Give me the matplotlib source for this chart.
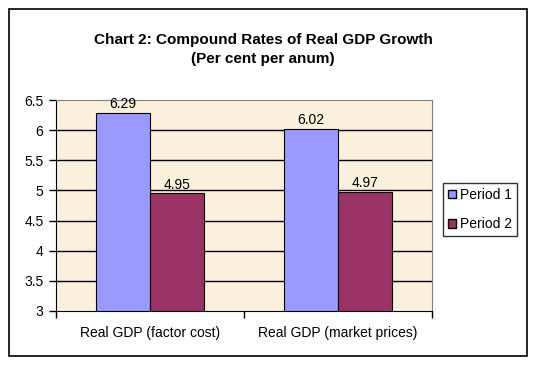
import matplotlib
matplotlib.use("Agg")
import matplotlib.pyplot as plt
from matplotlib.patches import Rectangle, Patch
import numpy as np

plt.rcParams['font.family'] = ['Liberation Sans', 'DejaVu Sans']

categories = ["Real GDP (factor cost)", "Real GDP (market prices)"]
series_names = ["Period 1", "Period 2"]
period1 = [6.29, 6.02]
period2 = [4.95, 4.97]
colors = ["#9999FF", "#993366"]
y_ticks = [3, 3.5, 4, 4.5, 5, 5.5, 6, 6.5]

W, H = 535, 366
fig = plt.figure(figsize=(W / 100, H / 100), dpi=100)
fig.patch.set_facecolor("white")

# outer border
fig.add_artist(Rectangle((9 / W, 1 - 356 / H), (527 - 9) / W, (356 - 9) / H,
                         transform=fig.transFigure, fill=False, edgecolor="black", lw=1.2))

L, R, T, B = 56, 432, 100, 311
ax = fig.add_axes([L / W, 1 - B / H, (R - L) / W, (B - T) / H])
ax.set_facecolor("#FAF0DB")

x = np.arange(len(categories))
bw = 1 / 3.5
for i, (vals, c, name) in enumerate(zip([period1, period2], colors, series_names)):
    pos = x - bw / 2 + i * bw
    ax.bar(pos, [v - 3 for v in vals], bottom=3, width=bw, color=c,
           edgecolor="black", lw=0.8, label=name, zorder=3)
    for p, v in zip(pos, vals):
        ax.text(p, v + 0.03, f"{v:.2f}", ha="center", va="bottom", fontsize=10, zorder=4)

ax.set_xlim(-0.5, len(categories) - 0.5)
ax.set_ylim(3, 6.5)
ax.set_yticks(y_ticks)
ax.set_yticklabels([f"{t:g}" for t in y_ticks], fontsize=10)
for t in y_ticks[1:-1]:
    ax.axhline(t, color="black", lw=1, zorder=1)

ax.set_xticks(np.arange(len(categories) + 1) - 0.5)
ax.set_xticklabels([])
ax.set_xticks(x, minor=True)
ax.set_xticklabels(categories, minor=True, fontsize=10)
ax.tick_params(axis="x", which="minor", length=0, pad=11)
ax.tick_params(axis="x", which="major", length=5, direction="out", width=1)
ax.tick_params(axis="y", length=5, direction="out", width=1, pad=4)

for s in ["top", "right"]:
    ax.spines[s].set_color("#808080")
for s in ["left", "bottom"]:
    ax.spines[s].set_color("black")

fig.text(263 / W, 1 - 40 / H, "Chart 2: Compound Rates of Real GDP Growth",
         ha="center", va="center", fontsize=11, fontweight="bold")
fig.text(263 / W, 1 - 59 / H, "(Per cent per anum)",
         ha="center", va="center", fontsize=11, fontweight="bold")

handles = [Patch(facecolor=c, edgecolor="black", label=n) for c, n in zip(colors, series_names)]
leg = fig.legend(handles=handles, loc="upper left",
                 bbox_to_anchor=(443 / W, 1 - 183 / H), fontsize=10,
                 frameon=True, fancybox=False, edgecolor="black",
                 handlelength=0.6, handleheight=0.6, handletextpad=0.25,
                 borderpad=0.35, labelspacing=1.1, borderaxespad=0)
leg.get_frame().set_linewidth(1)

fig.savefig("out.png", dpi=100)
